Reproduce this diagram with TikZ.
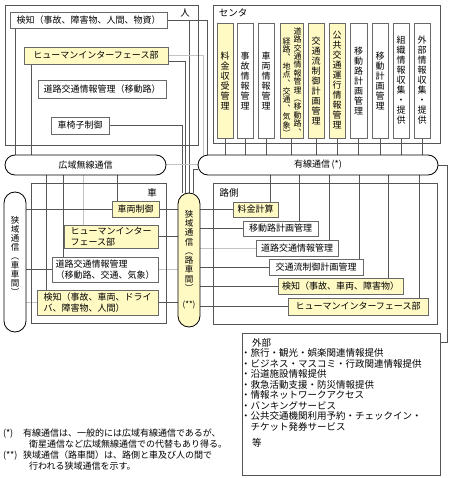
\documentclass[tikz,border=0pt]{standalone}
\usepackage{fontspec}
\newfontfamily\jpfont{Noto Sans CJK JP}
\newfontfamily\jpvfont[RawFeature={+vert}]{Noto Sans CJK JP}
\usetikzlibrary{calc}
\pgfdeclarelayer{background}
\pgfsetlayers{background,main}
\definecolor{yfill}{RGB}{255,249,196}
\definecolor{dline}{RGB}{85,85,85}
\definecolor{lline}{RGB}{195,195,195}
\definecolor{bord}{RGB}{105,105,105}
\begin{document}
\begin{tikzpicture}[x=1pt,y=-1pt,
  every node/.style={inner sep=0pt, outer sep=0pt},
  fr/.style={draw=dline, line width=0.8pt, anchor=north west},
  bx/.style={draw=bord, line width=0.6pt, fill=white, anchor=north west, font=\jpfont\fontsize{9}{10.5}\selectfont, align=center},
  yb/.style={bx, fill=yfill},
  capsule/.style={draw=black, line width=0.8pt, fill=white, anchor=north west, rounded corners=10pt, font=\jpfont\fontsize{9}{10}\selectfont},
  vt/.style={font=\jpvfont\fontsize{9}{10}\selectfont, align=center},
  vts/.style={font=\jpvfont\fontsize{8}{8.4}\selectfont, align=center},
  lbl/.style={font=\jpfont\fontsize{9.5}{10}\selectfont},
  ft/.style={font=\jpfont\fontsize{9}{10}\selectfont, anchor=base west},
  gt/.style={font=\jpfont\fontsize{9.5}{10}\selectfont, anchor=base west},
  dk/.style={draw=dline, line width=0.6pt},
  lt/.style={draw=lline, line width=1pt},
]
\useasboundingbox (0,0) rectangle (452,478);

% ---------- frames ----------
\node[fr, minimum width=193, minimum height=140] (hito) at (5,5) {};
\node[lbl] (hitol) at (185,13) {人};
\node[fr, minimum width=227, minimum height=138] (cent) at (213,5) {};
\node[lbl] (centl) at (233,13) {センタ};
\node[fr, minimum width=135, minimum height=140] (kuru) at (31,183) {};
\node[lbl] (kurul) at (152,193) {車};
\node[fr, minimum width=224, minimum height=141] (rob) at (213,183) {};
\node[lbl] (robl) at (229,193) {路側};
\node[fr, minimum width=198, minimum height=142] (gb) at (242,333) {};

% ---------- 人 ----------
\node[bx, minimum width=157, minimum height=16] (h1) at (10,12) {検知（事故、障害物、人間、物資）};
\node[yb, minimum width=144, minimum height=17] (h2) at (24,47) {ヒューマンインターフェース部};
\node[bx, minimum width=128, minimum height=18] (h3) at (38,80) {道路交通情報管理（移動路）};
\node[bx, minimum width=58, minimum height=17] (h4) at (51,117) {車椅子制御};

% ---------- センタ ----------
\node[yb, minimum width=16, minimum height=115] (c1) at (217,23) {};
\node[bx, minimum width=16, minimum height=115] (c2) at (237,23) {};
\node[bx, minimum width=16, minimum height=115] (c3) at (258,23) {};
\node[yb, minimum width=23, minimum height=115] (c4) at (280,23) {};
\node[yb, minimum width=16, minimum height=115] (c5) at (308,23) {};
\node[yb, minimum width=16, minimum height=115] (c6) at (329,23) {};
\node[bx, minimum width=17, minimum height=115] (c7) at (350,23) {};
\node[bx, minimum width=16, minimum height=115] (c8) at (372,23) {};
\node[bx, minimum width=16, minimum height=115] (c9) at (393,23) {};
\node[bx, minimum width=16, minimum height=115] (c10) at (414,23) {};
\node[vt] (t1) at (c1.center) {料\\金\\収\\受\\管\\理};
\node[vt] (t2) at (c2.center) {事\\故\\情\\報\\管\\理};
\node[vt] (t3) at (c3.center) {車\\両\\情\\報\\管\\理};
\node[vts, anchor=north] (t4a) at (297.5,27.5) {道\\路\\交\\通\\情\\報\\管\\理\\（\\移\\動\\路\\、};
\node[vts, anchor=south] (t4b) at (286.5,136.5) {経\\路\\、\\地\\点\\、\\交\\通\\、\\気\\象\\）};
\node[vt] (t5) at (c5.center) {交\\通\\流\\制\\御\\計\\画\\管\\理};
\node[vt] (t6) at (c6.center) {公\\共\\交\\通\\運\\行\\情\\報\\管\\理};
\node[vt] (t7) at (c7.center) {移\\動\\路\\計\\画\\管\\理};
\node[vt] (t8) at (c8.center) {移\\動\\計\\画\\管\\理};
\node[vt] (t9) at (c9.center) {組\\織\\情\\報\\収\\集\\・\\提\\供};
\node[vt] (t10) at (c10.center) {外\\部\\情\\報\\収\\集\\・\\提\\供};

% ---------- communication capsules ----------
\node[capsule, minimum width=161, minimum height=20] (wl) at (5,155) {広域無線通信};
\node[capsule, minimum width=240, minimum height=20] (wr) at (198,155) {有線通信\,(*)};
\node[capsule, rounded corners=11pt, minimum width=22, minimum height=140] (nl) at (4,192) {};
\node[vt, font=\jpvfont\fontsize{8.5}{9}\selectfont, anchor=north] (nlt) at (15,216) {狭\\域\\通\\信\\（\\車\\車\\間\\）};
\node[capsule, fill=yfill, rounded corners=11pt, minimum width=22, minimum height=134] (nr) at (178,193) {};
\node[vt, font=\jpvfont\fontsize{8.5}{9.3}\selectfont, anchor=north] (nrt) at (189,210) {狭\\域\\通\\信\\（\\路\\車\\間\\）};
\node[font=\jpfont\fontsize{8}{9}\selectfont] (nrs) at (189,305) {(**)};

% ---------- 車 ----------
\node[yb, minimum width=47, minimum height=16] (v1) at (112,201) {車両制御};
\node[yb, minimum width=94, minimum height=23, align=left] (v2) at (64,225) {ヒューマンインター\\フェース部};
\node[bx, minimum width=106, minimum height=25, align=left] (v3) at (52,257) {道路交通情報管理\\（移動路、交通、気象）};
\node[yb, minimum width=121, minimum height=25, align=left] (v4) at (37,290) {検知（事故、車両、ドライ\\バ、障害物、人間）};

% ---------- 路側 ----------
\node[yb, minimum width=45, minimum height=15] (r1) at (233,202) {料金計算};
\node[bx, minimum width=75, minimum height=15] (r2) at (243,221) {移動路計画管理};
\node[bx, minimum width=82, minimum height=16] (r3) at (256,240) {道路交通情報管理};
\node[bx, minimum width=94, minimum height=16] (r4) at (269,259) {交通流制御計画管理};
\node[yb, minimum width=125, minimum height=16] (r5) at (278,278) {検知（事故、車両、障害物）};
\node[yb, minimum width=140, minimum height=17] (r6) at (288,298) {ヒューマンインターフェース部};

% ---------- 外部 ----------
\node[gt] (g0) at (252,346.5) {外部};
\node[gt] (g1) at (241,356.5) {・旅行・観光・娯楽関連情報提供};
\node[gt] (g2) at (241,367) {・ビジネス・マスコミ・行政関連情報提供};
\node[gt] (g3) at (241,377.5) {・沿道施設情報提供};
\node[gt] (g4) at (241,388) {・救急活動支援・防災情報提供};
\node[gt] (g5) at (241,398.5) {・情報ネットワークアクセス};
\node[gt] (g6) at (241,409) {・バンキングサービス};
\node[gt] (g7) at (241,419.5) {・公共交通機関利用予約・チェックイン・};
\node[gt] (g8) at (250.5,430) {チケット発券サービス};
\node[gt] (g9) at (252,446) {等};

% ---------- footnotes ----------
\node[ft] (f1a) at (3,436.5) {(*)};
\node[ft] (f1b) at (23,436.5) {有線通信は、一般的には広域有線通信であるが、};
\node[ft] (f2) at (29,447) {衛星通信など広域無線通信での代替もあり得る。};
\node[ft] (f3a) at (3,458.5) {(**)};
\node[ft] (f3b) at (23,458.5) {狭域通信（路車間）は、路側と車及び人の間で};
\node[ft] (f4) at (29,469) {行われる狭域通信を示す。};

% ---------- connectors ----------
\begin{pgfonlayer}{background}
% 人
\draw[dk] (h1.south -| 15,0) -- (wl.north -| 15,0);
\draw[dk] (h2.south -| 31,0) -- (wl.north -| 31,0);
\draw[dk] (h1.east) -- (h1.east -| 207,0) -- (wr.north -| 207,0);
\draw[dk] (h1.east -| 189,0) -- (nr.north -| 189,0);
\draw[lt] (h2.east) -- (h2.east -| 203,0) -- (wr.north -| 203,0);
\draw[dk] ($(h2.south east)+(0,-3)$) -- (185,61) -- (nr.north -| 185,0);
\draw[dk] (h4.east) -- (h4.east -| 182,0) -- (nr.north -| 182,0);
% capsules
\draw[lt] (wl.east) -- (wr.west);
\draw[dk] (nr.north -| 193,0) -- (193,169) -- (wr.west |- 0,169);
% centre ticks
\foreach \i in {1,...,10} \draw[dk] (c\i.south) -- (c\i.south |- wr.north);
% 有線 to 外部
\draw[dk] (wr.east) -- (wr.east -| 447,0) -- (447,342) -- (gb.east |- 0,342);
% 有線 to 路側
\draw[dk] (wr.south -| 270,0) -- (r1.north -| 270,0);
\draw[dk] (wr.south -| 299,0) -- (r2.north -| 299,0);
\draw[dk] (wr.south -| 329,0) -- (r3.north -| 329,0);
\draw[dk] (wr.south -| 359,0) -- (r4.north -| 359,0);
\draw[dk] (wr.south -| 388,0) -- (r5.north -| 388,0);
\draw[dk] (wr.south -| 419,0) -- (r6.north -| 419,0);
% 路車間 to 路側
\draw[dk] (r1.west -| nr.east) -- (r1.west);
\draw[dk] (r2.west -| nr.east) -- (r2.west);
\draw[lt] (r3.west -| nr.east) -- (r3.west);
\draw[dk] (r4.west -| nr.east) -- (r4.west);
\draw[dk] (r5.west -| nr.east) -- (r5.west);
\draw[dk] (r6.west -| nr.east) -- (r6.west);
% 広域無線 to 車
\draw[dk] (wl.south -| 117,0) -- (v1.north -| 117,0);
\draw[lt] (wl.south -| 83,0) -- (v2.north -| 83,0);
\draw[dk] (wl.south -| 63,0) -- (v3.north -| 63,0);
\draw[dk] (wl.south -| 46,0) -- (v4.north -| 46,0);
% 車 to 路車間
\draw[dk] (v1.east) -- (v1.east -| nr.west);
\draw[dk] (v2.east) -- (v2.east -| nr.west);
\draw[lt] (v3.east) -- (v3.east -| nr.west);
\draw[dk] (v4.east) -- (v4.east -| nr.west);
% 車車間 to 車
\draw[dk] (nl.east |- v1.west) -- (v1.west);
\draw[dk] (nl.east |- v3.west) -- (v3.west);
\draw[lt] (nl.east |- v4.west) -- (v4.west);
\end{pgfonlayer}
\end{tikzpicture}
\end{document}
